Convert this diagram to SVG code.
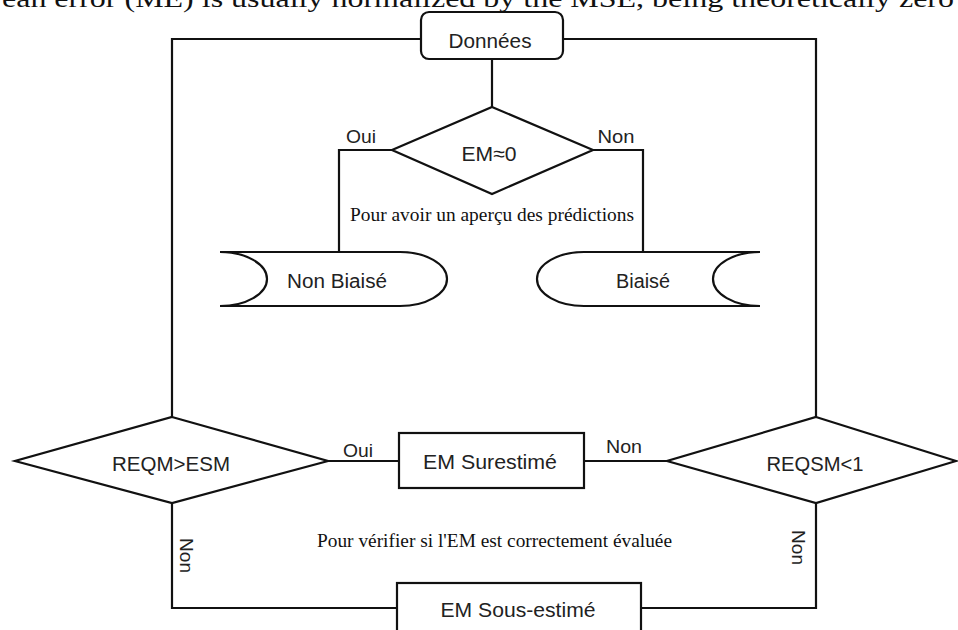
<svg xmlns="http://www.w3.org/2000/svg" width="958" height="630" viewBox="0 0 958 630">
<style>
.shape{fill:#fff;stroke:#111;stroke-width:2.2;stroke-linejoin:miter}
.conn{fill:none;stroke:#111;stroke-width:2.2}
.lbl{font-family:"Liberation Sans",Arial,sans-serif;fill:#222;text-anchor:middle}
.small{font-family:"Liberation Sans",Arial,sans-serif;fill:#222;font-size:18px}
.serif{font-family:"Liberation Serif","Times New Roman",serif;fill:#111;font-size:19.5px}
</style>
<rect width="958" height="630" fill="#fff"/>
<text x="2" y="7" font-family="Liberation Serif, serif" font-size="25" fill="#111" textLength="952" lengthAdjust="spacingAndGlyphs">ean error (ME) is usually normalized by the MSE, being theoretically zero</text>
<g id="connectors">
<path class="conn" d="M492,59 V107"/>
<path class="conn" d="M421,39 H172 V417"/>
<path class="conn" d="M563,39 H816 V417"/>
<path class="conn" d="M392,150 H339 V252"/>
<path class="conn" d="M593,150 H643 V252"/>
<path class="conn" d="M328,461 H399"/>
<path class="conn" d="M584,461 H667"/>
<path class="conn" d="M172,503 V608 H397"/>
<path class="conn" d="M816,503 V608 H641"/>
<text class="small" x="361" y="143" text-anchor="middle" textLength="30" lengthAdjust="spacingAndGlyphs">Oui</text>
<text class="small" x="616" y="143" text-anchor="middle" textLength="37" lengthAdjust="spacingAndGlyphs">Non</text>
<text class="small" x="358" y="457" text-anchor="middle" textLength="30" lengthAdjust="spacingAndGlyphs">Oui</text>
<text class="small" x="624" y="453" text-anchor="middle" textLength="36" lengthAdjust="spacingAndGlyphs">Non</text>
<text class="small" transform="translate(180,538) rotate(90)" textLength="35" lengthAdjust="spacingAndGlyphs">Non</text>
<text class="small" transform="translate(792,530) rotate(90)" textLength="35" lengthAdjust="spacingAndGlyphs">Non</text>
</g>
<g id="donnees">
<rect class="shape" x="421" y="12" width="142" height="47" rx="8"/>
<text class="lbl" x="490" y="48" font-size="21" textLength="83" lengthAdjust="spacingAndGlyphs">Données</text>
</g>
<g id="em0">
<polygon class="shape" points="492,107 593,150 492,194 392,150"/>
<text class="lbl" x="489" y="161" font-size="21" textLength="55" lengthAdjust="spacingAndGlyphs">EM≈0</text>
</g>
<text class="serif" x="350" y="221" textLength="284" lengthAdjust="spacingAndGlyphs">Pour avoir un aperçu des prédictions</text>
<g id="nonbiaise">
<path class="shape" d="M220,252 L400,252 A47,27 0 0 1 400,306 L220,306 A47,27 0 0 0 220,252 Z"/>
<text class="lbl" x="337" y="288" font-size="20" textLength="100" lengthAdjust="spacingAndGlyphs">Non Biaisé</text>
</g>
<g id="biaise">
<path class="shape" d="M584,252 L760,252 A47,27 0 0 0 760,306 L584,306 A47,27 0 0 1 584,252 Z"/>
<text class="lbl" x="643" y="288" font-size="20" textLength="54" lengthAdjust="spacingAndGlyphs">Biaisé</text>
</g>
<g id="reqm">
<polygon class="shape" points="172,417 328,461 172,503 15,461"/>
<text class="lbl" x="171" y="471" font-size="21" textLength="118" lengthAdjust="spacingAndGlyphs">REQM&gt;ESM</text>
</g>
<g id="surestime">
<rect class="shape" x="399" y="433" width="185" height="55"/>
<text class="lbl" x="490" y="469" font-size="21" textLength="134" lengthAdjust="spacingAndGlyphs">EM Surestimé</text>
</g>
<g id="reqsm">
<polygon class="shape" points="816,417 956,461 816,503 667,461"/>
<text class="lbl" x="815" y="471" font-size="21" textLength="97" lengthAdjust="spacingAndGlyphs">REQSM&lt;1</text>
</g>
<text class="serif" x="317" y="547" textLength="355" lengthAdjust="spacingAndGlyphs">Pour vérifier si l'EM est correctement évaluée</text>
<g id="sousestime">
<rect class="shape" x="397" y="583" width="244" height="60"/>
<text class="lbl" x="518" y="617" font-size="21" textLength="155" lengthAdjust="spacingAndGlyphs">EM Sous-estimé</text>
</g>
</svg>
